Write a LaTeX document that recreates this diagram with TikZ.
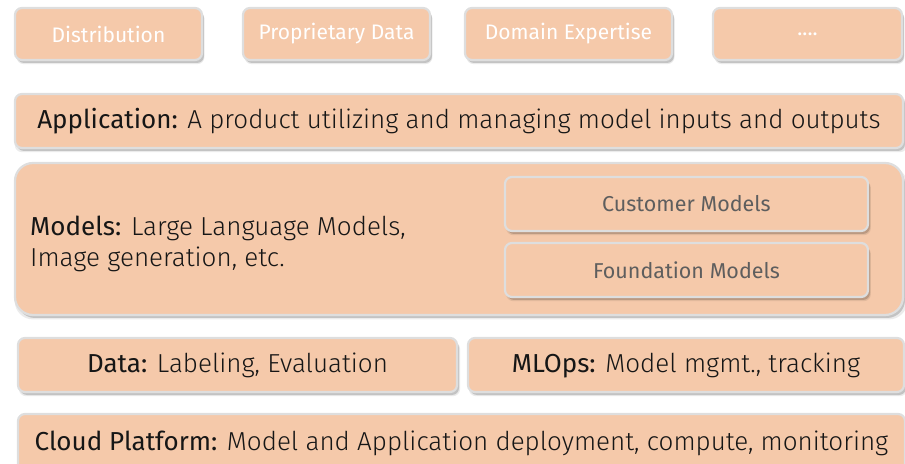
\documentclass[tikz,border=0pt]{standalone}
\usepackage{fontspec}
\setmainfont{Fira Sans}[UprightFont=* Light, BoldFont=* Regular]
\newfontface\tagface{Fira Sans}
\usepackage{tikz}
\usetikzlibrary{shadows}
\definecolor{peach}{HTML}{F5C9AA}
\definecolor{rim}{HTML}{DEDEDE}
\definecolor{ink}{HTML}{161616}
\definecolor{dimink}{HTML}{5E5E5E}
\newcommand{\head}[1]{\textbf{#1}}

\begin{document}
\begin{tikzpicture}[
  x=1bp, y=-1bp,
  layer/.style={draw=rim, line width=2.2bp, fill=peach, rounded corners=7bp,
                minimum height=54bp, text=ink, inner sep=0pt,
                font=\fontsize{26bp}{31bp}\selectfont,
                general shadow={shadow xshift=2bp, shadow yshift=-4bp,
                                fill=black, opacity=0.08, shadow scale=1.005},
                drop shadow={shadow xshift=2bp, shadow yshift=-3bp,
                             fill=black, opacity=0.17}},
  tag/.style={layer, minimum height=52bp, text=white,
              font=\tagface\fontsize{21bp}{25bp}\selectfont},
  sub/.style={layer, text=dimink, font=\tagface\fontsize{21.5bp}{25bp}\selectfont},
]
\useasboundingbox (0,0) rectangle (905,464);
\clip (0,0) rectangle (905,464);

% top row of tags
\node[tag, minimum width=187bp] (dist) at (108.5,34) {Distribution};
\node[tag, minimum width=187bp] (prop) at (336.5,34) {Proprietary Data};
\node[tag, minimum width=207bp] (dom)  at (568.5,34) {Domain Expertise};
\node[tag, minimum width=189bp] (more) at (807.5,34) {....};

% application layer
\node[layer, minimum width=888bp] (app) at (459,121)
  {\head{Application:} A product utilizing and managing model inputs and outputs};

% model layer with its two sub-boxes
\node[layer, minimum width=888bp, minimum height=152bp, rounded corners=18bp]
  (models) at (459,239) {};
\node[anchor=west, align=left, text=ink, inner sep=0pt,
      font=\fontsize{26bp}{31bp}\selectfont] (mtext) at (30,244)
  {\head{Models:} Large Language Models,\\Image generation, etc.};
\node[sub, minimum width=363bp] (cust) at (686.5,204) {Customer Models};
\node[sub, minimum width=363bp] (found) at (686.5,270) {Foundation Models};

% data and ops
\node[layer, minimum width=439bp] (data) at (237.5,365)
  {\head{Data:} Labeling, Evaluation};
\node[layer, minimum width=436bp] (ops) at (686,365)
  {\head{MLOps:} Model mgmt., tracking};

% platform layer
\node[layer, minimum width=887bp, minimum height=58bp] (cloud) at (461.5,443)
  {\head{Cloud Platform:} Model and Application deployment, compute, monitoring};
\end{tikzpicture}
\end{document}
